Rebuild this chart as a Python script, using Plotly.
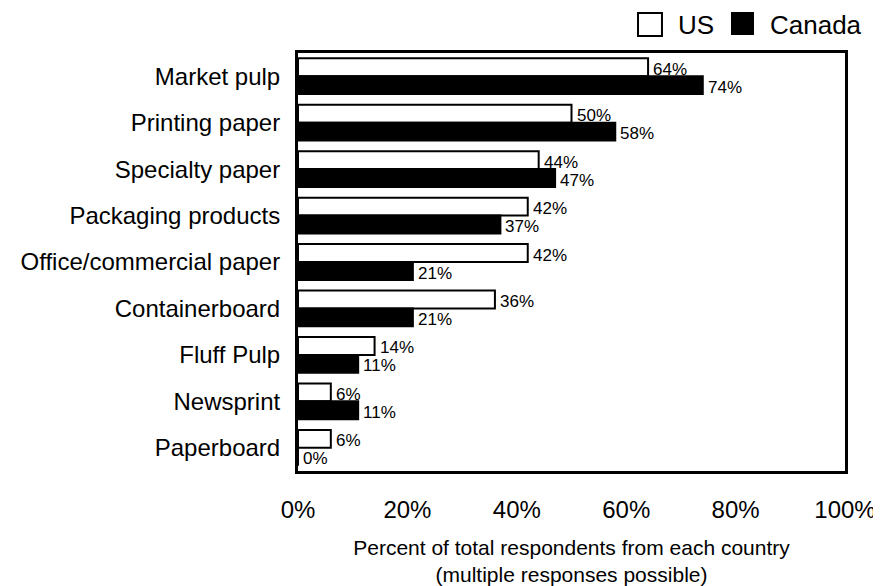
import plotly.graph_objects as go

categories = ["Market pulp", "Printing paper", "Specialty paper", "Packaging products",
              "Office/commercial paper", "Containerboard", "Fluff Pulp", "Newsprint", "Paperboard"]
us_values = [64, 50, 44, 42, 42, 36, 14, 6, 6]
canada_values = [74, 58, 47, 37, 21, 21, 11, 11, 0]
x_ticks = [0, 20, 40, 60, 80, 100]
x_tick_labels = ["0%", "20%", "40%", "60%", "80%", "100%"]
series_names = ["US", "Canada"]

font_family = "Liberation Sans, Arial, sans-serif"

fig = go.Figure()
fig.add_trace(go.Bar(
    y=categories, x=us_values, orientation="h", name=series_names[0],
    marker=dict(color="white", line=dict(color="black", width=2)),
))
fig.add_trace(go.Bar(
    y=categories, x=canada_values, orientation="h", name=series_names[1],
    marker=dict(color="black", line=dict(color="black", width=2)),
))

# value labels, slightly below each bar's centre as in the reference
for vals, shift in ((us_values, 7), (canada_values, -11)):
    for cat, v in zip(categories, vals):
        fig.add_annotation(
            x=v, y=cat, xref="x", yref="y", text=f"{v}%", showarrow=False,
            xanchor="left", yanchor="middle", xshift=3, yshift=shift,
            font=dict(size=17, color="black", family=font_family),
        )

# legend drawn by hand (large square swatches as in the reference)
legend_items = [
    dict(name=series_names[0], fill="white", box=(0.6216, 0.6654, 1.0406, 1.0955), text_x=0.691),
    dict(name=series_names[1], fill="black", box=(0.7934, 0.8318, 1.0453, 1.0955), text_x=0.8592),
]
for it in legend_items:
    x0, x1, y0, y1 = it["box"]
    fig.add_shape(type="rect", xref="paper", yref="paper", x0=x0, x1=x1, y0=y0, y1=y1,
                  fillcolor=it["fill"], line=dict(color="black", width=2))
    fig.add_annotation(x=it["text_x"], y=1.067, xref="paper", yref="paper", text=it["name"],
                       showarrow=False, xanchor="left", yanchor="middle",
                       font=dict(size=26, color="black", family=font_family))

fig.update_layout(
    width=873, height=578,
    margin=dict(l=290, r=36, t=45, b=115, autoexpand=False),
    paper_bgcolor="white", plot_bgcolor="white",
    barmode="group", bargap=0.23, bargroupgap=0.0,
    font=dict(family=font_family, color="black"),
    showlegend=False,
)
fig.update_xaxes(
    range=[0, 100], tickvals=x_ticks, ticktext=x_tick_labels,
    tickfont=dict(size=24), showgrid=False, zeroline=False,
    showline=True, linecolor="black", linewidth=3, mirror=True,
    ticks="", ticklabelstandoff=15, automargin=False,
    title=dict(text="Percent of total respondents from each country<br>(multiple responses possible)",
               font=dict(size=21), standoff=20),
)
fig.update_yaxes(
    autorange="reversed", tickfont=dict(size=24), showgrid=False,
    showline=True, linecolor="black", linewidth=3, mirror=True,
    ticks="", ticklabelstandoff=10, automargin=False,
)
fig.write_html("out.html")
